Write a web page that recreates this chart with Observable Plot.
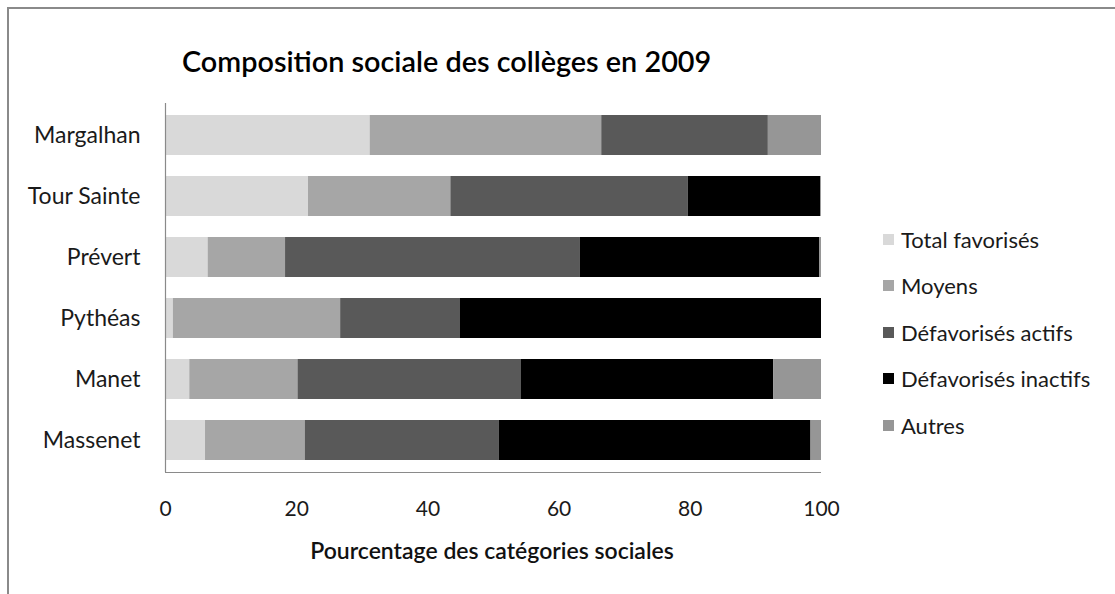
<!DOCTYPE html>
<html>
<head>
<meta charset="utf-8">
<script src="https://cdn.jsdelivr.net/npm/d3@7"></script>
<script src="https://cdn.jsdelivr.net/npm/@observablehq/plot@0.6"></script>
<style>
  html, body { margin: 0; padding: 0; background: #fff; }
  body { width: 1115px; height: 594px; position: relative; overflow: hidden; font-family: Lato, "Open Sans", sans-serif; }
  #frame { position: absolute; left: 7px; top: 7px; width: 1200px; height: 700px; border-left: 2px solid #8a8a8a; border-top: 2px solid #8a8a8a; box-sizing: border-box; }
  #chart { position: absolute; left: 0; top: 0; }
  #title { position: absolute; left: 182px; top: 44px; font-size: 28.8px; font-weight: 600; color: #000; white-space: nowrap; line-height: 34px; }
  #xlabel { position: absolute; left: 492px; top: 536px; transform: translateX(-50%); font-size: 23px; font-weight: 600; color: #111; white-space: nowrap; line-height: 28px; }
  #legend { position: absolute; left: 883px; top: 216px; }
  .item { display: flex; align-items: center; height: 46.5px; font-size: 22px; color: #1a1a1a; white-space: nowrap; }
  .sw { width: 11px; height: 11px; margin-right: 7px; }
</style>
</head>
<body>
<div id="frame"></div>
<div id="chart"></div>
<div id="title">Composition sociale des collèges en 2009</div>
<div id="xlabel">Pourcentage des catégories sociales</div>
<div id="legend"></div>
<script>
const schools = ["Margalhan", "Tour Sainte", "Prévert", "Pythéas", "Manet", "Massenet"];
const categories = ["Total favorisés", "Moyens", "Défavorisés actifs", "Défavorisés inactifs", "Autres"];
const favorises   = [31.2, 21.8,  6.5,  1.2,  3.7,  6.1];
const moyens      = [35.3, 21.7, 11.8, 25.5, 16.5, 15.2];
const defActifs   = [25.4, 36.2, 44.9, 18.2, 34.0, 29.6];
const defInactifs = [ 0.0, 20.2, 36.5, 55.1, 38.5, 47.5];
const autres      = [ 8.1,  0.1,  0.3,  0.0,  7.3,  1.6];
const colors = ["#d9d9d9", "#a6a6a6", "#595959", "#000000", "#969696"];
const xTicks = [0, 20, 40, 60, 80, 100];

const series = [favorises, moyens, defActifs, defInactifs, autres];
const data = [];
schools.forEach((s, i) => {
  categories.forEach((c, j) => {
    data.push({school: s, category: c, value: series[j][i]});
  });
});

const bottomLine = (index, scales, values, dims) => {
  const svgNS = "http://www.w3.org/2000/svg";
  const g = document.createElementNS(svgNS, "g");
  const line = document.createElementNS(svgNS, "line");
  const yb = dims.height - dims.marginBottom;
  line.setAttribute("x1", scales.x(0));
  line.setAttribute("x2", scales.x(100));
  line.setAttribute("y1", yb + 0.5);
  line.setAttribute("y2", yb + 0.5);
  line.setAttribute("stroke", "#8a8a8a");
  line.setAttribute("stroke-width", 1.2);
  g.appendChild(line);
  return g;
};

const chart = Plot.plot({
  width: 1115,
  height: 594,
  marginLeft: 165,
  marginRight: 294,
  marginTop: 103,
  marginBottom: 122,
  style: {fontFamily: "Lato, 'Open Sans', sans-serif", background: "transparent"},
  x: {domain: [0, 100], ticks: xTicks, label: null},
  y: {domain: schools, paddingInner: 0.35, paddingOuter: 0.175, label: null},
  color: {domain: categories, range: colors},
  marks: [
    Plot.barX(data, {x: "value", y: "school", fill: "category", order: categories, inset: 0}),
    Plot.ruleX([0], {stroke: "#8a8a8a", strokeWidth: 1.2}),
    bottomLine,
    Plot.axisX({ticks: xTicks, tickSize: 0, tickPadding: 29, fontSize: 21, fill: "#1a1a1a", label: null}),
    Plot.axisY({tickSize: 0, tickPadding: 25, fontSize: 23, fill: "#1a1a1a", label: null})
  ]
});
document.getElementById("chart").appendChild(chart);

const legend = document.getElementById("legend");
categories.forEach((c, j) => {
  const item = document.createElement("div");
  item.className = "item";
  const sw = document.createElement("span");
  sw.className = "sw";
  sw.style.background = colors[j];
  const t = document.createElement("span");
  t.textContent = c;
  item.appendChild(sw);
  item.appendChild(t);
  legend.appendChild(item);
});
</script>
</body>
</html>
